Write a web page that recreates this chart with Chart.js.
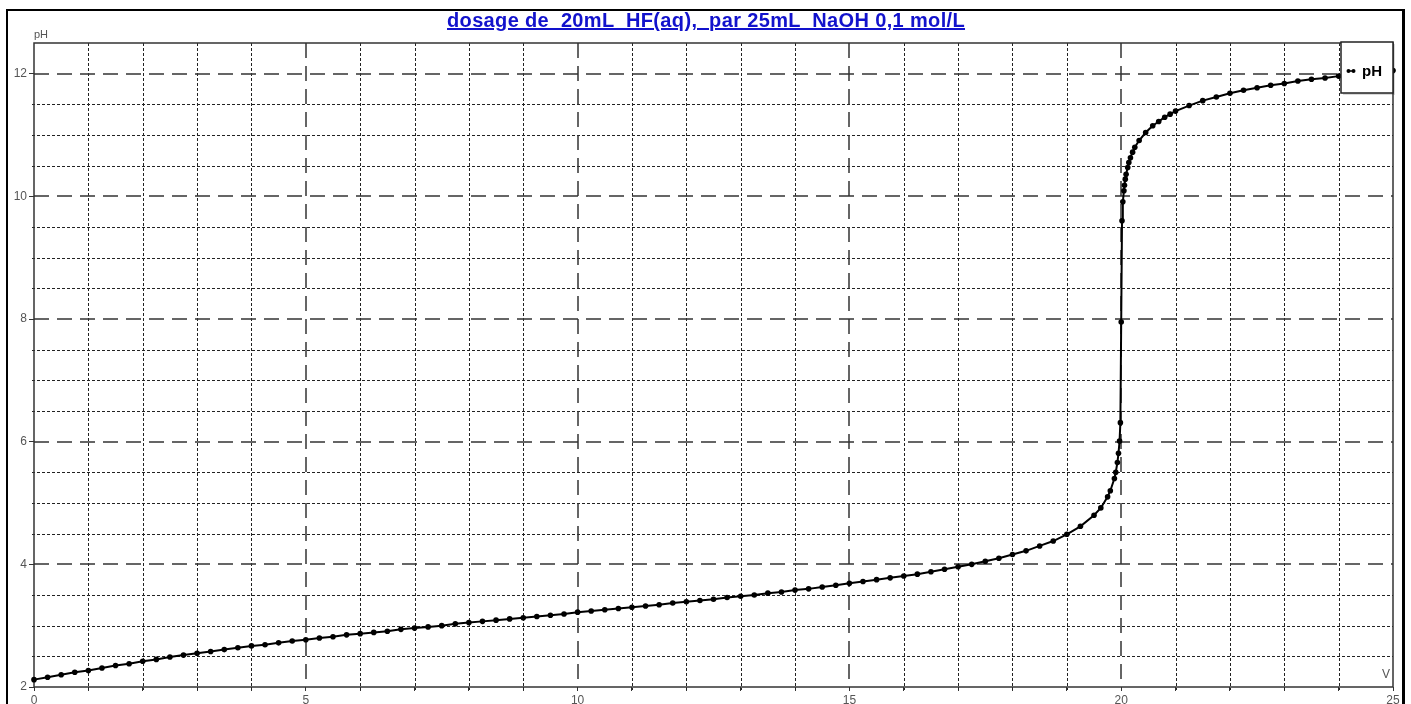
<!DOCTYPE html>
<html lang="fr">
<head>
<meta charset="UTF-8">
<title>dosage HF par NaOH</title>
<style>
  body { margin: 0; background: #fff; width: 1411px; height: 704px; overflow: hidden; position: relative; }
  .cadre { position: absolute; left: 6px; top: 9px; width: 1394px; height: 720px; border: 2px solid #000; border-right-width: 3px; }
  .titre {
    position: absolute; top: 9px; left: 447px;
    font: bold 20px "Liberation Sans", Arial, sans-serif;
    line-height: 23px; letter-spacing: 0.35px;
    color: #1212cc; text-decoration: underline; white-space: pre;
  }
  canvas { position: absolute; left: 0; top: 0; }
</style>
</head>
<body>
<div class="cadre"></div>
<canvas id="chart" width="1411" height="704"></canvas>
<div class="titre">dosage de  20mL  HF(aq),  par 25mL  NaOH 0,1 mol/L</div>

<script src="https://cdn.jsdelivr.net/npm/chart.js"></script>
<script>
// volume de soude versé (mL)
const volumes = [
  0, 0.25, 0.5, 0.75, 1, 1.25, 1.5, 1.75, 2, 2.25, 2.5, 2.75,
  3, 3.25, 3.5, 3.75, 4, 4.25, 4.5, 4.75, 5, 5.25, 5.5, 5.75,
  6, 6.25, 6.5, 6.75, 7, 7.25, 7.5, 7.75, 8, 8.25, 8.5, 8.75,
  9, 9.25, 9.5, 9.75, 10, 10.25, 10.5, 10.75, 11, 11.25, 11.5, 11.75,
  12, 12.25, 12.5, 12.75, 13, 13.25, 13.5, 13.75, 14, 14.25, 14.5, 14.75,
  15, 15.25, 15.5, 15.75, 16, 16.25, 16.5, 16.75, 17, 17.25, 17.5, 17.75,
  18, 18.25, 18.5, 18.75, 19, 19.25, 19.5, 19.625, 19.75, 19.8, 19.875, 19.9,
  19.93, 19.95, 19.97, 19.985, 20, 20.015, 20.03, 20.05, 20.06, 20.075, 20.09, 20.12,
  20.14, 20.17, 20.21, 20.25, 20.33, 20.45, 20.58, 20.69, 20.8, 20.9, 21, 21.25,
  21.5, 21.75, 22, 22.25, 22.5, 22.75, 23, 23.25, 23.5, 23.75, 24, 24.25,
  24.5, 24.75, 25
];
// pH mesuré
const phValues = [
  2.12, 2.16, 2.20, 2.24, 2.27, 2.31, 2.35, 2.38, 2.42, 2.45, 2.49, 2.52,
  2.55, 2.58, 2.61, 2.64, 2.67, 2.69, 2.72, 2.75, 2.77, 2.80, 2.82, 2.85,
  2.87, 2.89, 2.91, 2.94, 2.96, 2.98, 3.00, 3.03, 3.05, 3.07, 3.09, 3.11,
  3.13, 3.15, 3.17, 3.19, 3.22, 3.24, 3.26, 3.28, 3.30, 3.32, 3.34, 3.37,
  3.39, 3.41, 3.43, 3.46, 3.48, 3.50, 3.53, 3.55, 3.58, 3.60, 3.63, 3.66,
  3.69, 3.72, 3.75, 3.78, 3.81, 3.84, 3.88, 3.92, 3.96, 4.00, 4.05, 4.10,
  4.16, 4.22, 4.30, 4.38, 4.49, 4.62, 4.80, 4.92, 5.10, 5.20, 5.40, 5.50,
  5.66, 5.81, 6.01, 6.31, 7.95, 9.60, 9.91, 10.09, 10.18, 10.28, 10.36, 10.47,
  10.55, 10.63, 10.72, 10.80, 10.91, 11.04, 11.15, 11.22, 11.29, 11.34, 11.39, 11.48,
  11.56, 11.62, 11.68, 11.73, 11.77, 11.81, 11.84, 11.88, 11.91, 11.93, 11.96, 11.98,
  12.00, 12.03, 12.05
];
const xLabels = [0, 5, 10, 15, 20, 25];
const yLabels = [2, 4, 6, 8, 10, 12];

const points = volumes.map((v, i) => ({ x: v, y: phValues[i] }));
const tickFont = { family: '"Liberation Sans", Arial, sans-serif', size: 12 };

function trait(ctx, x1, y1, x2, y2) {
  ctx.beginPath();
  ctx.moveTo(x1, y1);
  ctx.lineTo(x2, y2);
  ctx.stroke();
}

// grille pointillée (1 mL / 0,5 pH) et tiretée (5 mL / 2 pH)
const grille = {
  id: 'grille',
  beforeDatasetsDraw(chart) {
    const { ctx, chartArea: a, scales: { x, y } } = chart;
    ctx.save();
    ctx.strokeStyle = '#222';
    ctx.lineWidth = 1;
    ctx.setLineDash([3, 2]);
    for (let v = 1; v < 25; v++) {
      if (v % 5 === 0) continue;
      const px = Math.round(x.getPixelForValue(v)) + 0.5;
      trait(ctx, px, a.top, px, a.bottom + 3);
    }
    for (let v = 2.5; v < 12.5; v += 0.5) {
      if (v % 2 === 0) continue;
      const py = Math.round(y.getPixelForValue(v)) + 0.5;
      trait(ctx, a.left - 2, py, a.right, py);
    }
    ctx.strokeStyle = '#333';
    ctx.lineWidth = 1.5;
    ctx.setLineDash([15, 8]);
    for (let v = 5; v < 25; v += 5) {
      const px = Math.round(x.getPixelForValue(v));
      trait(ctx, px, a.top, px, a.bottom);
    }
    for (let v = 4; v <= 12; v += 2) {
      const py = Math.round(y.getPixelForValue(v));
      trait(ctx, a.left, py, a.right, py);
    }
    ctx.setLineDash([]);
    ctx.strokeStyle = '#333';
    ctx.lineWidth = 1.5;
    ctx.strokeRect(a.left, a.top, a.right - a.left, a.bottom - a.top);
    ctx.restore();
  },
  afterDraw(chart) {
    const { ctx, chartArea: a } = chart;
    ctx.save();
    ctx.fillStyle = '#555';
    ctx.font = '11px "Liberation Sans", Arial, sans-serif';
    ctx.textAlign = 'left';
    ctx.textBaseline = 'alphabetic';
    ctx.fillText('pH', a.left, a.top - 5);
    ctx.textAlign = 'right';
    ctx.font = '12px "Liberation Sans", Arial, sans-serif';
    ctx.fillText('V', a.right - 3, a.bottom - 9);
    ctx.restore();
  }
};

// cadre de légende en haut à droite
const legende = {
  id: 'legende',
  afterDatasetsDraw(chart) {
    const { ctx, chartArea: a } = chart;
    const w = 52, h = 51;
    const bx = a.right - w, by = a.top - 1;
    ctx.save();
    ctx.fillStyle = 'rgba(0,0,0,0.15)';
    ctx.fillRect(bx + 2, by + 2, w, h);
    ctx.fillStyle = '#fff';
    ctx.fillRect(bx, by, w, h);
    ctx.strokeStyle = '#222';
    ctx.lineWidth = 1.5;
    ctx.strokeRect(bx, by, w, h);
    const cy = by + 29;
    ctx.strokeStyle = '#000';
    ctx.lineWidth = 1.5;
    trait(ctx, bx + 7, cy, bx + 13, cy);
    ctx.fillStyle = '#000';
    [bx + 7.5, bx + 12.5].forEach(px => {
      ctx.beginPath();
      ctx.arc(px, cy, 2, 0, Math.PI * 2);
      ctx.fill();
    });
    ctx.font = 'bold 15px "Liberation Sans", Arial, sans-serif';
    ctx.textAlign = 'left';
    ctx.textBaseline = 'middle';
    ctx.fillText('pH', bx + 21, cy + 1);
    ctx.restore();
  }
};

new Chart(document.getElementById('chart'), {
  type: 'scatter',
  data: {
    datasets: [{
      label: 'pH',
      data: points,
      showLine: true,
      tension: 0,
      borderColor: '#000',
      borderWidth: 2,
      pointRadius: 2.8,
      pointBorderWidth: 0,
      pointBackgroundColor: '#000',
      clip: 6
    }]
  },
  options: {
    responsive: false,
    devicePixelRatio: 1,
    animation: false,
    layout: { padding: { top: 43, right: 18, left: 0, bottom: 0 } },
    plugins: {
      legend: { display: false },
      title: { display: false },
      tooltip: { enabled: false }
    },
    scales: {
      x: {
        type: 'linear',
        min: 0,
        max: 25,
        afterFit(s) { s.height = 17; },
        border: { display: false },
        grid: { drawOnChartArea: false, tickLength: 4, tickColor: '#333' },
        ticks: {
          stepSize: 1,
          autoSkip: false,
          maxRotation: 0,
          padding: 2,
          color: '#555',
          font: tickFont,
          callback: v => xLabels.includes(v) ? String(v) : ''
        }
      },
      y: {
        type: 'linear',
        min: 2,
        max: 12.5,
        afterFit(s) { s.width = 34; },
        border: { display: false },
        grid: {
          drawOnChartArea: false,
          tickLength: 5,
          tickColor: c => yLabels.includes(c.tick.value) ? '#333' : 'rgba(0,0,0,0)'
        },
        ticks: {
          stepSize: 0.5,
          autoSkip: false,
          padding: 2,
          color: '#555',
          font: tickFont,
          callback: v => yLabels.includes(v) ? String(v) : ''
        }
      }
    }
  },
  plugins: [grille, legende]
});
</script>
</body>
</html>
